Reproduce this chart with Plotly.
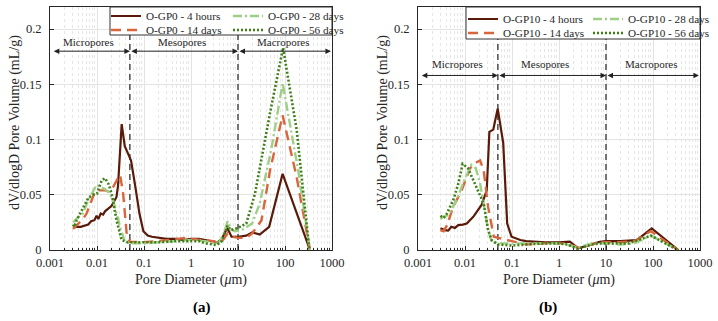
import numpy as np
import plotly.graph_objects as go

# ---------------- data ----------------
a_4h_x = [0.0031, 0.0036, 0.0045, 0.0055, 0.0065, 0.0075, 0.0088, 0.0098, 0.0107, 0.012, 0.0135, 0.0148,
          0.017, 0.0205, 0.026, 0.028, 0.0335, 0.039, 0.046, 0.053, 0.065, 0.08, 0.097, 0.12, 0.147, 0.2,
          0.3, 0.5, 0.7, 1.0, 1.5, 2.0, 3.0, 3.7, 4.5, 5.9, 7.3, 10, 15, 20, 29, 46, 89, 340]
a_4h_y = [0.020, 0.021, 0.021, 0.022, 0.023, 0.026, 0.027, 0.031, 0.028, 0.033, 0.032, 0.035,
          0.037, 0.040, 0.048, 0.058, 0.114, 0.094, 0.087, 0.081, 0.058, 0.033, 0.017, 0.013, 0.012, 0.011,
          0.010, 0.010, 0.009, 0.010, 0.010, 0.009, 0.008, 0.007, 0.010, 0.020, 0.012, 0.012, 0.013, 0.016,
          0.014, 0.021, 0.069, 0.0]

a_14d_x = [0.0031, 0.004, 0.005, 0.006, 0.0075, 0.0091, 0.011, 0.0148, 0.018, 0.022, 0.027, 0.031, 0.036,
           0.043, 0.05, 0.07, 0.1, 0.2, 0.3, 0.5, 0.8, 1.0, 2.0, 3.0, 4.0, 5.0, 6.0, 7.5, 10, 15, 20, 31.7,
           48, 89, 177, 340]
a_14d_y = [0.019, 0.024, 0.028, 0.033, 0.043, 0.053, 0.054, 0.054, 0.053, 0.057, 0.064, 0.068, 0.051,
           0.014, 0.0075, 0.007, 0.007, 0.008, 0.009, 0.010, 0.011, 0.010, 0.009, 0.008, 0.006, 0.010, 0.015,
           0.012, 0.011, 0.011, 0.015, 0.027, 0.072, 0.122, 0.066, 0.0]

a_28d_x = [0.0031, 0.004, 0.005, 0.0065, 0.008, 0.0098, 0.012, 0.015, 0.018, 0.022, 0.031, 0.039, 0.05,
           0.1, 0.2, 0.5, 1.0, 2.0, 3.0, 4.0, 5.0, 6.0, 7.0, 8.5, 12, 20, 29, 52, 89, 191, 340]
a_28d_y = [0.025, 0.030, 0.033, 0.045, 0.052, 0.059, 0.057, 0.055, 0.052, 0.045, 0.021, 0.0075, 0.006,
           0.006, 0.007, 0.008, 0.009, 0.008, 0.006, 0.007, 0.015, 0.026, 0.019, 0.017, 0.018, 0.024,
           0.042, 0.093, 0.151, 0.072, 0.0]

a_56d_x = [0.0031, 0.0033, 0.0037, 0.0045, 0.0055, 0.0065, 0.008, 0.01, 0.0126, 0.0148, 0.0175, 0.0205,
           0.026, 0.0335, 0.045, 0.07, 0.1, 0.2, 0.5, 1.0, 1.5, 2.0, 3.5, 4.5, 6.0, 7.0, 10, 15, 23, 48, 91,
           177, 330]
a_56d_y = [0.023, 0.021, 0.027, 0.034, 0.042, 0.047, 0.050, 0.051, 0.063, 0.065, 0.060, 0.051,
           0.027, 0.009, 0.007, 0.007, 0.007, 0.007, 0.008, 0.008, 0.008, 0.006, 0.0045, 0.008, 0.022,
           0.018, 0.020, 0.024, 0.051, 0.124, 0.183, 0.109, 0.0]

b_4h_x = [0.0030, 0.0037, 0.0044, 0.0051, 0.0061, 0.0072, 0.009, 0.0109, 0.015, 0.0227, 0.029, 0.033,
          0.04, 0.0496, 0.065, 0.079, 0.098, 0.15, 0.2, 0.5, 1.0, 1.7, 2.57, 4.0, 7.4, 10, 20, 45, 94, 345]
b_4h_y = [0.0196, 0.018, 0.0175, 0.021, 0.020, 0.0226, 0.023, 0.024, 0.030, 0.041, 0.054, 0.107,
          0.109, 0.128, 0.097, 0.024, 0.012, 0.009, 0.008, 0.007, 0.007, 0.0075, 0.0015, 0.004, 0.0075,
          0.008, 0.008, 0.009, 0.0196, 0.0]

b_14d_x = [0.0030, 0.0035, 0.0041, 0.0056, 0.0085, 0.0128, 0.017, 0.021, 0.025, 0.031, 0.041, 0.05, 0.07,
           0.1, 0.2, 0.5, 1.0, 1.5, 2.5, 4.0, 6.0, 10, 20, 40, 90, 340]
b_14d_y = [0.018, 0.017, 0.022, 0.039, 0.054, 0.074, 0.079, 0.081, 0.072, 0.039, 0.012, 0.011, 0.010,
           0.008, 0.005, 0.006, 0.006, 0.006, 0.002, 0.004, 0.006, 0.007, 0.007, 0.008, 0.017, 0.0]

b_28d_x = [0.0030, 0.0035, 0.0045, 0.0066, 0.0094, 0.0136, 0.017, 0.021, 0.025, 0.031, 0.037, 0.05, 0.1,
           0.2, 0.5, 1.0, 1.5, 2.5, 5.0, 10, 20, 40, 90, 340]
b_28d_y = [0.028, 0.030, 0.032, 0.045, 0.062, 0.077, 0.074, 0.060, 0.042, 0.018, 0.0075, 0.006, 0.006,
           0.006, 0.006, 0.006, 0.005, 0.002, 0.006, 0.006, 0.005, 0.006, 0.013, 0.0]

b_56d_x = [0.0030, 0.0035, 0.004, 0.0056, 0.0072, 0.0089, 0.0116, 0.0163, 0.025, 0.031, 0.037, 0.05,
           0.1, 0.2, 0.5, 1.0, 1.5, 2.5, 5.0, 8.0, 30, 90, 340]
b_56d_y = [0.031, 0.029, 0.032, 0.045, 0.060, 0.078, 0.074, 0.060, 0.042, 0.018, 0.009, 0.005,
           0.004, 0.005, 0.006, 0.006, 0.005, 0.001, 0.005, 0.006, 0.006, 0.013, 0.0]

series_labels = ["4 hours", "14 days", "28 days", "56 days"]
sample_names = ["O-GP0", "O-GP10"]
boundaries = [0.05, 10]
region_names = ["Micropores", "Mesopores", "Macropores"]
x_tickvals = [0.001, 0.01, 0.1, 1, 10, 100, 1000]
x_ticktext = ["0.001", "0.01", "0.1", "1", "10", "100", "1000"]
y_tickvals = [0, 0.05, 0.1, 0.15, 0.2]
panel_labels = ["(a)", "(b)"]
x_title = "Pore Diameter (<i>μ</i>m)"
y_title = "dV/dlogD Pore Volume (mL/g)"

# ---------------- styling ----------------
colors = ["#5a1a09", "#d9653d", "#9fcf86", "#3f7f17"]
dashes = ["solid", "10px,6px", "9px,3px,2px,3px", "2px,2px"]
widths = [2.2, 2.4, 2.4, 2.6]
FONT = "Liberation Serif, Times New Roman, serif"
W, H = 718, 321
TXT = "#262626"

fig = go.Figure()

panels = [
    dict(xs=[a_4h_x, a_14d_x, a_28d_x, a_56d_x], ys=[a_4h_y, a_14d_y, a_28d_y, a_56d_y],
         dom=[50 / W, 332 / W], arrow_y=0.18, lab_y=0.188, ytitle_x=15,
         legend_box=(110, 332, 7, 35), rows=(16, 30), lx=106, ew=77),
    dict(xs=[b_4h_x, b_14d_x, b_28d_x, b_56d_x], ys=[b_4h_y, b_14d_y, b_28d_y, b_56d_y],
         dom=[418 / W, 700 / W], arrow_y=0.158, lab_y=0.168, ytitle_x=383,
         legend_box=(466, 700, 7, 39), rows=(19, 33), lx=463, ew=80),
]

ydom = [(H - 250) / H, (H - 7) / H]
minor_vals = [m * 10.0 ** e for e in range(-3, 3) for m in range(2, 10)]

for p, P in enumerate(panels):
    xa = "x" if p == 0 else "x2"
    ya = "y" if p == 0 else "y2"
    leg_row1 = "legend" if p == 0 else "legend3"
    leg_row2 = "legend2" if p == 0 else "legend4"
    # region boundaries
    for b in boundaries:
        fig.add_trace(go.Scatter(x=[b, b], y=[0, 0.22], mode="lines", xaxis=xa, yaxis=ya,
                                 line=dict(color="#555555", width=1.6, dash="6px,4px"),
                                 showlegend=False, hoverinfo="skip"))
    for i in range(4):
        fig.add_trace(go.Scatter(
            x=P["xs"][i], y=P["ys"][i], mode="lines", xaxis=xa, yaxis=ya,
            name=f"{sample_names[p]} - {series_labels[i]}",
            line=dict(color=colors[i], width=widths[i], dash=dashes[i]),
            legend=leg_row1 if i in (0, 2) else leg_row2,
        ))
    # arrows
    edges = [0.00112, boundaries[0], boundaries[1], 950]
    centers = [10 ** -2.19, 10 ** -0.19, 91]
    if p == 1:
        centers = [10 ** -2.15, 10 ** -0.3, 91]
    for k in range(3):
        fig.add_annotation(x=np.log10(edges[k + 1]), y=P["arrow_y"], ax=np.log10(edges[k]), ay=P["arrow_y"],
                           xref=xa, yref=ya, axref=xa, ayref=ya, text="", showarrow=True,
                           arrowhead=2, startarrowhead=2, arrowside="end+start", arrowsize=1.1,
                           startarrowsize=1.1, arrowwidth=1, arrowcolor="#222222", standoff=0, startstandoff=0)
        fig.add_annotation(x=np.log10(centers[k]), y=P["lab_y"], xref=xa, yref=ya, text=region_names[k],
                           showarrow=False, font=dict(family=FONT, size=11, color=TXT), yanchor="middle")
    # legend box
    x0, x1, y0, y1 = P["legend_box"]
    fig.add_shape(type="rect", xref="paper", yref="paper", x0=x0 / W, x1=x1 / W, y0=(H - y1) / H,
                  y1=(H - y0) / H, fillcolor="white", line=dict(color="#333333", width=1), layer="above")
    for r, lg in enumerate([leg_row1, leg_row2]):
        fig.update_layout({lg: dict(x=P["lx"] / W, y=(H - P["rows"][r]) / H, xanchor="left", yanchor="middle",
                                    orientation="h", bgcolor="rgba(0,0,0,0)", borderwidth=0,
                                    font=dict(family=FONT, size=11.2, color=TXT), itemwidth=30,
                                    entrywidth=P["ew"], tracegroupgap=0)})
    # y-axis title
    fig.add_annotation(x=P["ytitle_x"] / W, y=(H - 123) / H, xref="paper", yref="paper", text=y_title,
                       textangle=-90, showarrow=False, xanchor="center", yanchor="middle",
                       font=dict(family=FONT, size=14, color=TXT))
    # panel label
    fig.add_annotation(x=(P["dom"][0] + P["dom"][1]) / 2, y=(H - 307) / H, xref="paper", yref="paper",
                       text=f"<b>{panel_labels[p]}</b>", showarrow=False, yanchor="middle",
                       font=dict(family=FONT, size=15, color="black"))

axis_common = dict(showline=True, linecolor="#262626", linewidth=1, mirror=True, ticks="inside", ticklen=4,
                   tickcolor="#262626", tickfont=dict(family=FONT, size=12.5, color=TXT), automargin=False,
                   showgrid=True, gridcolor="#e3e3e3", gridwidth=1, zeroline=False)

for p, P in enumerate(panels):
    sfx = "" if p == 0 else "2"
    fig.update_layout({
        f"xaxis{sfx}": dict(axis_common, type="log", range=[-3, 3], domain=P["dom"], anchor="y" + sfx,
                            tickvals=x_tickvals, ticktext=x_ticktext, ticklabelstandoff=1,
                            minor=dict(tickvals=minor_vals, showgrid=True, gridcolor="#e6e6e6", griddash="dot",
                                       ticks="inside", ticklen=2, tickcolor="#262626"),
                            title=dict(text=x_title, font=dict(family=FONT, size=14, color=TXT),
                                       standoff=5)),
        f"yaxis{sfx}": dict(axis_common, range=[0, 0.22], domain=ydom, anchor="x" + sfx,
                            tickvals=y_tickvals, ticktext=["0", "0.05", "0.1", "0.15", "0.2"],
                            ticklabelstandoff=5),
    })

fig.update_layout(width=W, height=H, margin=dict(l=0, r=0, t=0, b=0, autoexpand=False), plot_bgcolor="white",
                  paper_bgcolor="white", font=dict(family=FONT, color=TXT))

fig.write_html("out.html")
